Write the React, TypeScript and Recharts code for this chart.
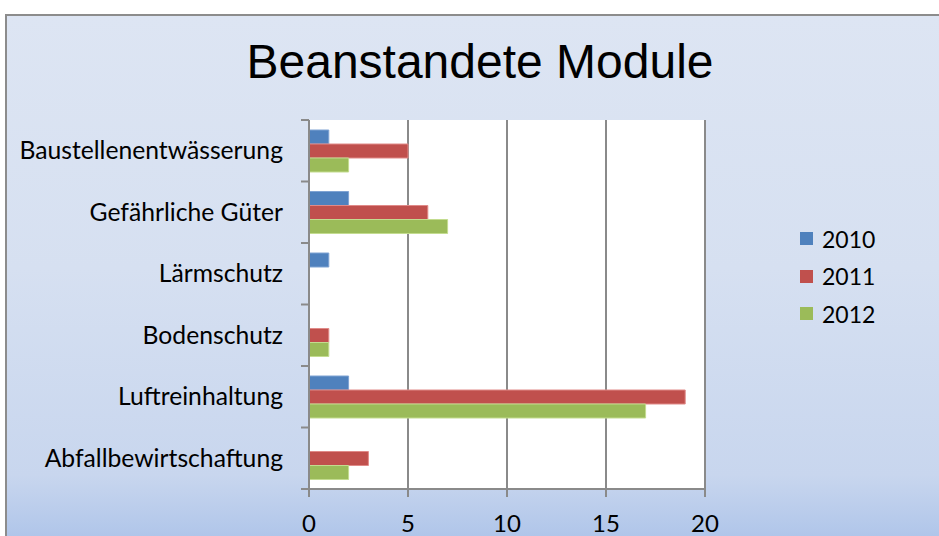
import { BarChart, Bar, XAxis, YAxis, CartesianGrid, Legend } from 'recharts';

const categories = [
  'Baustellenentwässerung',
  'Gefährliche Güter',
  'Lärmschutz',
  'Bodenschutz',
  'Luftreinhaltung',
  'Abfallbewirtschaftung',
];
const values2010 = [1, 2, 1, 0, 2, 0];
const values2011 = [5, 6, 0, 1, 19, 3];
const values2012 = [2, 7, 0, 1, 17, 2];
const xTicks = [0, 5, 10, 15, 20];

const data = categories.map((name, i) => ({
  name,
  y2010: values2010[i],
  y2011: values2011[i],
  y2012: values2012[i],
}));

const GRID = '#8a8a8a';
const LABEL_FONT = 'Lato, "Open Sans", sans-serif';
const AXIS_X = 309;

// Excel-Stil: Beschriftung mittig, Teilstriche an den Kategoriegrenzen
function CategoryTick(props: any) {
  const { x, y, payload, index, visibleTicksCount } = props;
  const half = payload?.offset || 30.75;
  const isLast = index === (visibleTicksCount ?? categories.length) - 1;
  return (
    <g>
      <line x1={AXIS_X - 8} x2={AXIS_X} y1={y - half} y2={y - half} stroke={GRID} strokeWidth={2} />
      {isLast && <line x1={AXIS_X - 8} x2={AXIS_X} y1={y + half} y2={y + half} stroke={GRID} strokeWidth={2} />}
      <text x={x} y={y} dy="0.35em" textAnchor="end" fill="#000" fontSize={24.7} fontFamily={LABEL_FONT}>
        {payload.value}
      </text>
    </g>
  );
}

function LegendBox({ payload }: any) {
  return (
    <div style={{ fontFamily: LABEL_FONT, fontSize: 23, color: '#000' }}>
      {(payload || []).map((p: any) => (
        <div key={p.value} style={{ display: 'flex', alignItems: 'center', height: 37.5 }}>
          <span style={{ width: 13, height: 13, background: p.color, display: 'inline-block', marginRight: 9 }} />
          <span>{p.value}</span>
        </div>
      ))}
    </div>
  );
}

export default function App() {
  return (
    <div style={{ position: 'absolute', left: 0, top: 0, width: 939, height: 536, overflow: 'hidden', background: '#fff' }}>
      <div
        style={{
          position: 'absolute',
          left: 5,
          top: 14,
          width: 960,
          height: 560,
          border: '2px solid #8c8c8c',
          background:
            'linear-gradient(to bottom, #dde5f3 0%, #d6e0f1 45%, #c8d6ee 82%, #b2c7ea 92%, #9fb8e4 100%)',
        }}
      />
      <div
        style={{
          position: 'absolute',
          left: 0,
          width: 960,
          top: 34,
          textAlign: 'center',
          fontFamily: '"Liberation Sans", Arial, sans-serif',
          fontSize: 48,
          lineHeight: '56px',
          color: '#000',
        }}
      >
        Beanstandete Module
      </div>
      <div style={{ position: 'absolute', left: 0, top: 0 }}>
        <BarChart
          width={939}
          height={536}
          data={data}
          layout="vertical"
          margin={{ top: 120, right: 234, bottom: 0, left: 0 }}
          barCategoryGap={10}
          barGap={0}
        >
          <CartesianGrid horizontal={false} stroke={GRID} strokeWidth={2} fill="#ffffff" />
          <XAxis
            type="number"
            domain={[0, 20]}
            ticks={xTicks}
            height={47}
            tickSize={8}
            tickMargin={18}
            axisLine={{ stroke: GRID, strokeWidth: 2 }}
            tickLine={{ stroke: GRID, strokeWidth: 2 }}
            tick={{ fill: '#000', fontSize: 24, fontFamily: LABEL_FONT }}
          />
          <YAxis
            type="category"
            dataKey="name"
            width={309}
            tickSize={8}
            tickMargin={18}
            tickLine={false}
            axisLine={{ stroke: GRID, strokeWidth: 2 }}
            tick={<CategoryTick />}
            interval={0}
          />
          <Legend
            layout="vertical"
            align="center"
            verticalAlign="middle"
            content={<LegendBox />}
            wrapperStyle={{ left: 800, top: 220, width: 110 }}
          />
          <Bar dataKey="y2010" name="2010" fill="#4f81bd" stroke="#7fa3d3" strokeWidth={1} isAnimationActive={false} />
          <Bar dataKey="y2011" name="2011" fill="#c0504d" stroke="#e08a88" strokeWidth={1} isAnimationActive={false} />
          <Bar dataKey="y2012" name="2012" fill="#9bbb59" stroke="#c3dc8f" strokeWidth={1} isAnimationActive={false} />
        </BarChart>
      </div>
    </div>
  );
}
